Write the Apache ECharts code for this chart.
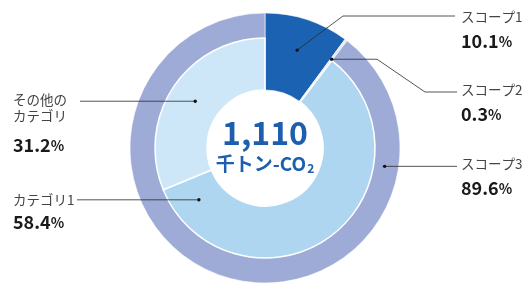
<!DOCTYPE html>
<html>
<head>
<meta charset="utf-8">
<script src="https://cdn.jsdelivr.net/npm/echarts@6/dist/echarts.min.js"></script>
<style>
  html, body { margin: 0; padding: 0; background: #fff; }
  #chart { width: 528px; height: 283px; }
</style>
</head>
<body>
<div id="chart"></div>
<script>
// scope breakdown (outer ring) and scope 3 breakdown (inner ring), in %
const scopeNames = ['スコープ1', 'スコープ2', 'スコープ3'];
const scopeValues = [10.1, 0.3, 89.6];
const categoryNames = ['カテゴリ1', 'その他の\nカテゴリ'];
const categoryValues = [58.4, 31.2];
const totalValue = '1,110';

const FONT = '"Noto Sans CJK JP", "Noto Sans", sans-serif';
const cx = 265, cy = 148;
const rIn = 58, rMid = 110, rOut = 135;

const chart = echarts.init(document.getElementById('chart'), null, { renderer: 'canvas' });

const sum = scopeValues.reduce((a, b) => a + b, 0);

// polar point on the donut: pct = position in % of the whole circle from 12 o'clock
function polar(pct, r) {
  const a = (90 - pct / sum * 360) * Math.PI / 180;
  return [cx + r * Math.cos(a), cy - r * Math.sin(a)];
}

// anchor points for the leader lines, taken from the data
const s1 = polar(scopeValues[0] * 0.5, 103);
const s2 = polar(scopeValues[0] + scopeValues[1] * 0.5, 111);
const s3 = polar(scopeValues[0] + scopeValues[1] + scopeValues[2] * 0.19, 121);
const start3 = scopeValues[0] + scopeValues[1];
const c1 = polar(start3 + categoryValues[0] * 0.925, 84);
const c2 = polar(start3 + categoryValues[0] + categoryValues[1] * 0.5, 84);

const lineStyle = { stroke: '#2a2a2a', lineWidth: 0.8, fill: null };
function leader(points) {
  return { type: 'polyline', silent: true, z: 100, shape: { points: points }, style: lineStyle };
}
function dot(p) {
  return { type: 'circle', silent: true, z: 101, shape: { cx: p[0], cy: p[1], r: 1.7 }, style: { fill: '#111' } };
}
function nameText(x, y, text, align) {
  return {
    type: 'text', silent: true, z: 100, x: x, y: y,
    style: { text: text, font: '13.5px ' + FONT, fill: '#444', align: align || 'left',
             verticalAlign: 'middle', lineHeight: 16 }
  };
}
function pctText(x, y, v) {
  return {
    type: 'text', silent: true, z: 100, x: x, y: y,
    style: {
      text: '{n|' + v.toFixed(1) + '}{p|%}', verticalAlign: 'middle',
      rich: {
        n: { font: 'bold 18px ' + FONT, fill: '#1a1a1a' },
        p: { font: 'bold 14px ' + FONT, fill: '#1a1a1a', padding: [2, 0, 0, 0] }
      }
    }
  };
}

const option = {
  backgroundColor: '#fff',
  animation: false,
  series: [
    {
      type: 'pie',
      silent: true,
      center: [cx, cy],
      radius: [rIn, rOut],
      startAngle: 90,
      label: { show: false },
      labelLine: { show: false },
      itemStyle: { borderColor: '#fff', borderWidth: 0.6 },
      data: [
        { name: scopeNames[0], value: scopeValues[0], itemStyle: { color: '#1b63b2' } },
        { name: scopeNames[1], value: scopeValues[1], itemStyle: { color: '#e4e9f2' } },
        { name: scopeNames[2], value: scopeValues[2], itemStyle: { color: '#9dabd6' } }
      ]
    },
    {
      type: 'pie',
      silent: true,
      center: [cx, cy],
      radius: [rIn, rMid],
      startAngle: 90,
      label: { show: false },
      labelLine: { show: false },
      itemStyle: { borderColor: '#fff', borderWidth: 1.5 },
      data: [
        { name: scopeNames[0], value: scopeValues[0], itemStyle: { color: 'rgba(0,0,0,0)', borderWidth: 0 } },
        { name: scopeNames[1], value: scopeValues[1], itemStyle: { color: 'rgba(0,0,0,0)', borderWidth: 0 } },
        { name: categoryNames[0], value: categoryValues[0], itemStyle: { color: '#aed6f1' } },
        { name: categoryNames[1], value: categoryValues[1], itemStyle: { color: '#cde7f9' } }
      ]
    }
  ],
  graphic: [
    // center total
    {
      type: 'text', silent: true, z: 100, x: cx, y: 133,
      style: { text: totalValue, font: 'bold 32px ' + FONT, fill: '#1d5fae',
               align: 'center', verticalAlign: 'middle' }
    },
    {
      type: 'text', silent: true, z: 100, x: cx, y: 164,
      style: {
        text: '{a|千トン-CO}{b|2}', align: 'center', verticalAlign: 'middle',
        rich: {
          a: { font: 'bold 19px ' + FONT, fill: '#1d5fae' },
          b: { font: 'bold 12px ' + FONT, fill: '#1d5fae', padding: [8, 0, 0, 1] }
        }
      }
    },
    // scope 1
    leader([s1, [343, 16], [455, 16]]), dot(s1),
    nameText(461, 17, scopeNames[0]), pctText(461, 41, scopeValues[0]),
    // scope 2
    leader([s2, [377, s2[1]], [425, 92], [457, 92]]), dot(s2),
    nameText(461, 90, scopeNames[1]), pctText(461, 114, scopeValues[1]),
    // scope 3
    leader([s3, [457, s3[1]]]), dot(s3),
    nameText(461, 164, scopeNames[2]), pctText(461, 188, scopeValues[2]),
    // other categories
    leader([c2, [80, c2[1]]]), dot(c2),
    nameText(13, 108, categoryNames[1]), pctText(13, 145, categoryValues[1]),
    // category 1
    leader([c1, [77, c1[1]]]), dot(c1),
    nameText(13, 200, categoryNames[0]), pctText(13, 222, categoryValues[0])
  ]
};

chart.setOption(option);
</script>
</body>
</html>
